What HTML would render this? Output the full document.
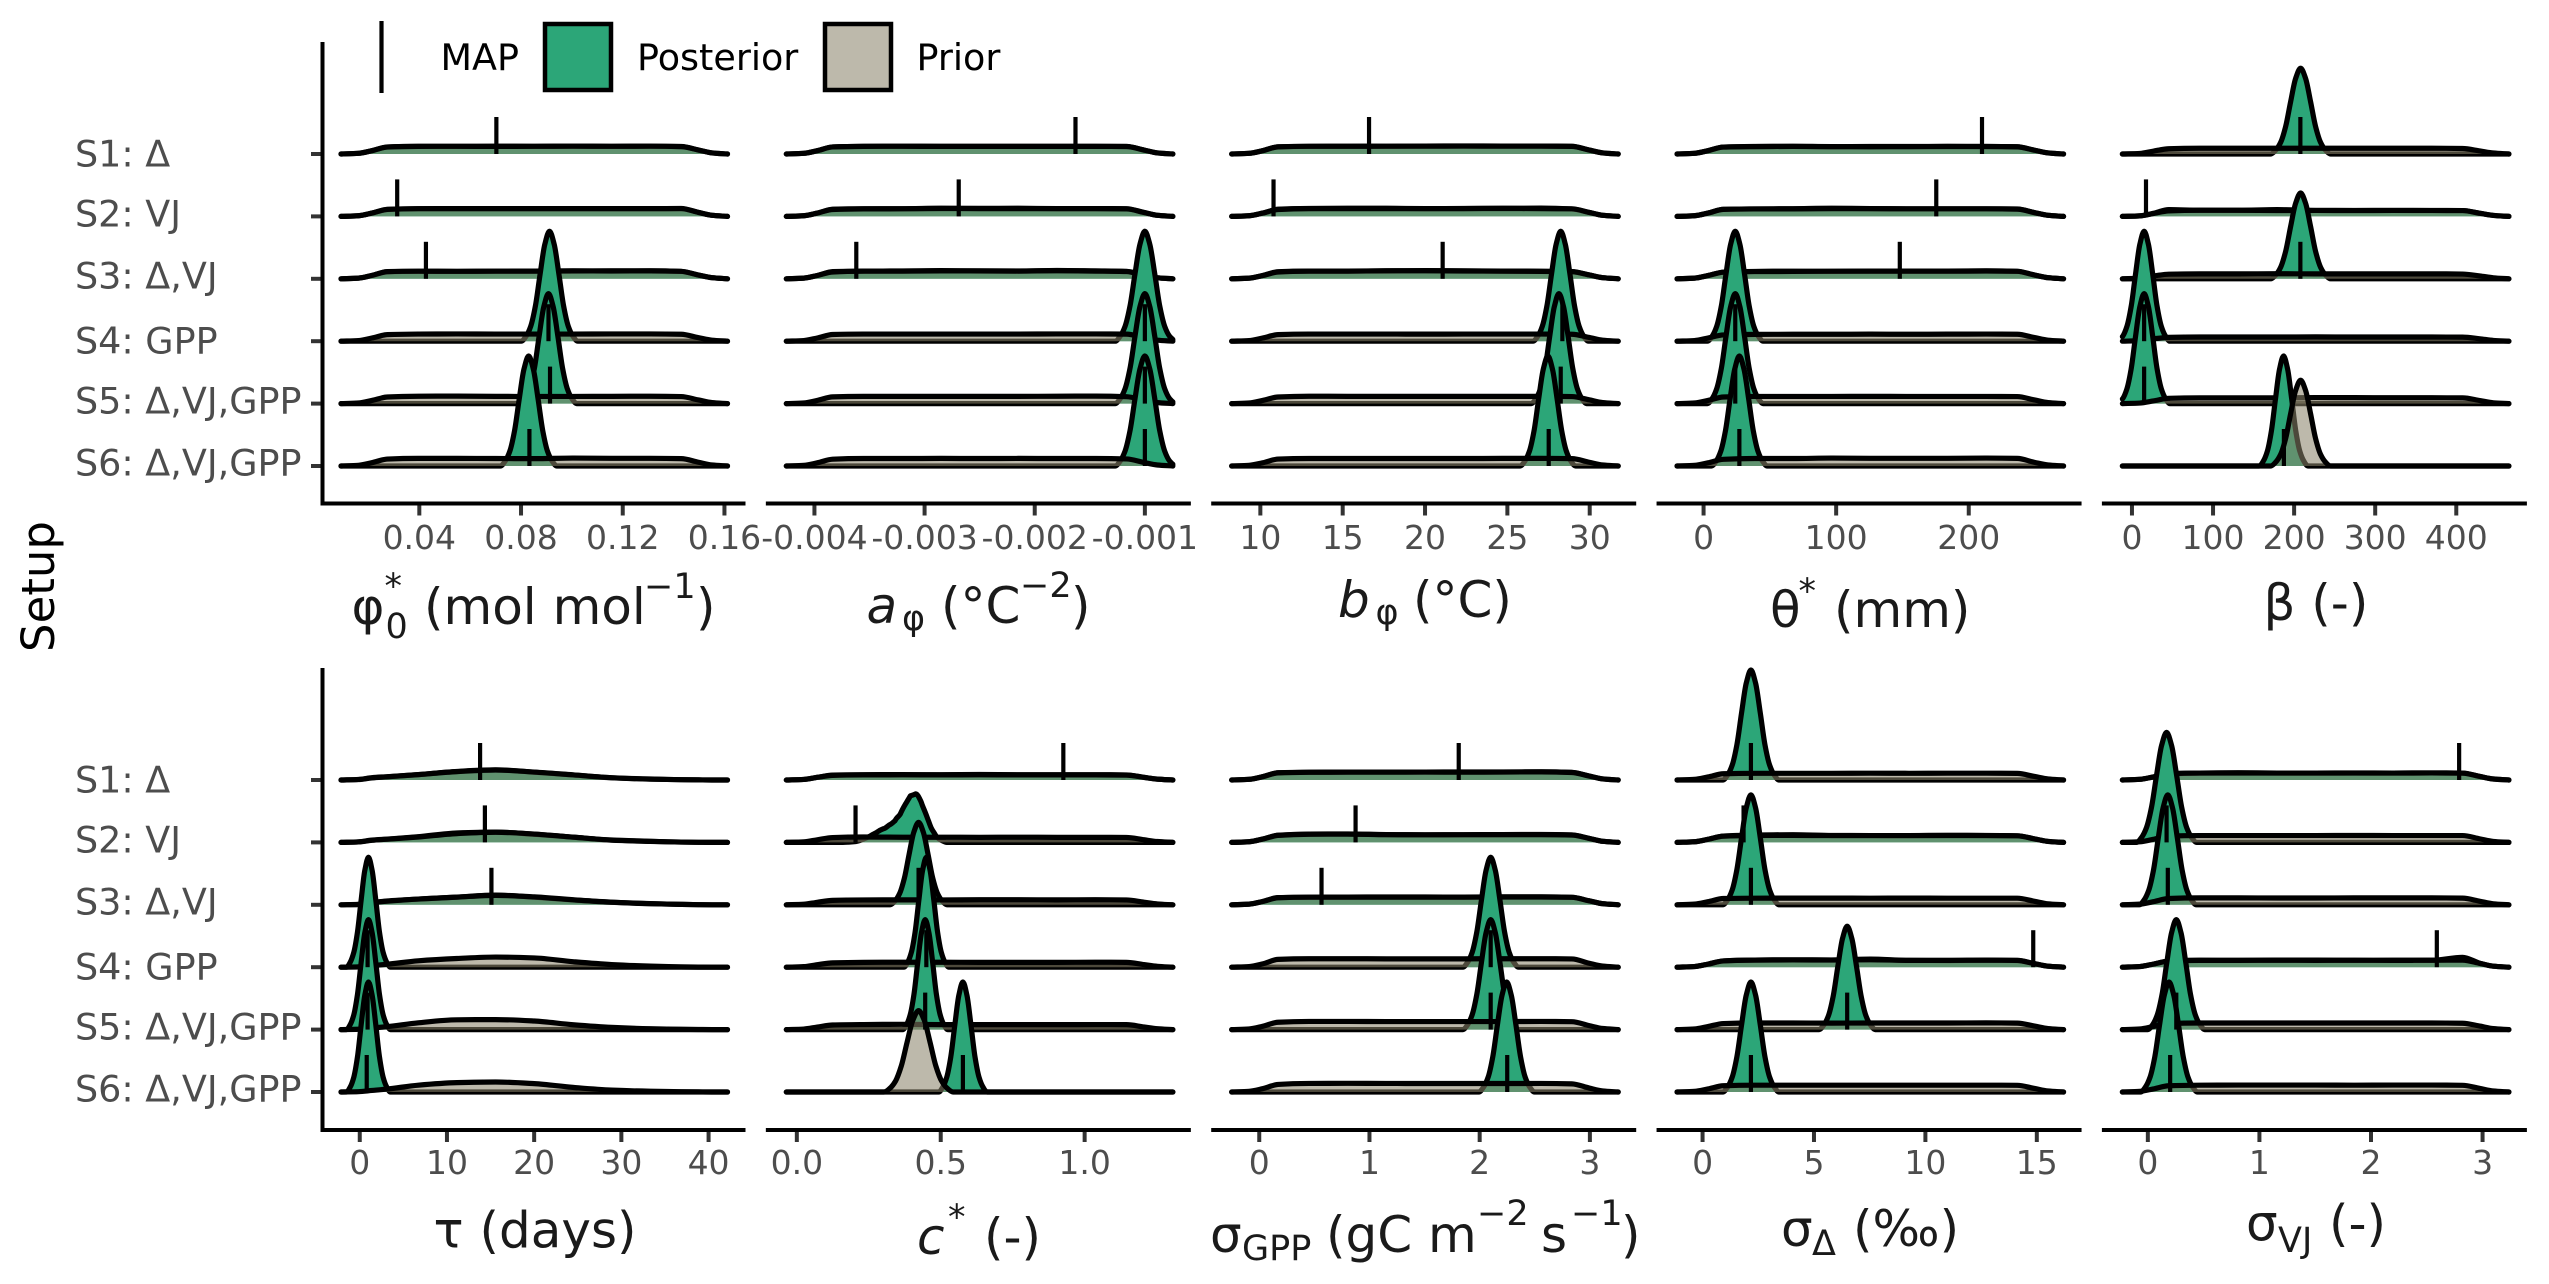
<!DOCTYPE html>
<html lang="en">
<head>
<meta charset="utf-8">
<title>Posterior and prior ridgelines</title>
<style>
html,body{margin:0;padding:0;background:#fff;}
svg{display:block;font-family:"DejaVu Sans","Liberation Sans",sans-serif;}
.title{font-size:50px;fill:#1a1a1a;}
.small{font-size:35px;}
.legend-label{font-size:36.5px;fill:#000;}
</style>
</head>
<body>
<svg id="chart" xmlns="http://www.w3.org/2000/svg" width="2549" height="1284" viewBox="0 0 2549 1284">
  <rect x="0" y="0" width="2549" height="1284" fill="#fff"/>
  <g>
    <line x1="381.5" y1="21" x2="381.5" y2="93" stroke="#000" stroke-width="4.2"/>
    <text class="legend-label" x="440.5" y="70">MAP</text>
    <rect x="545" y="24" width="66" height="66" fill="#2ca678" stroke="#000" stroke-width="4.5"/>
    <text class="legend-label" x="637" y="70">Posterior</text>
    <rect x="825" y="24" width="66" height="66" fill="#bdb9ab" stroke="#000" stroke-width="4.5"/>
    <text class="legend-label" x="916.5" y="70">Prior</text>
  </g>
  <text transform="translate(54,652) rotate(-90)" font-size="45" fill="#000">Setup</text>

  <text class="title"><tspan x="351.5" y="624">φ</tspan><tspan class="small" x="385.5" y="638">0</tspan><tspan class="small" x="384.5" y="598">*</tspan><tspan x="424" y="624">(mol mol</tspan><tspan class="small" x="644" y="598">−1</tspan><tspan x="696" y="624">)</tspan></text>
  <text class="title"><tspan x="866.5" y="623" font-style="italic">a</tspan><tspan class="small" x="902" y="630">φ</tspan><tspan x="941" y="623">(°C</tspan><tspan class="small" x="1020" y="597">−2</tspan><tspan x="1071" y="623">)</tspan></text>
  <text class="title"><tspan x="1338" y="617" font-style="italic">b</tspan><tspan class="small" x="1375.5" y="624">φ</tspan><tspan x="1413" y="617">(°C)</tspan></text>
  <text class="title"><tspan x="1770" y="627">θ</tspan><tspan class="small" x="1798.5" y="603">*</tspan><tspan x="1834" y="627">(mm)</tspan></text>
  <text class="title" x="2263.5" y="620">β (-)</text>
  <text class="title" x="433.5" y="1247.5">τ (days)</text>
  <text class="title"><tspan x="917" y="1254" font-style="italic">c</tspan><tspan class="small" x="948" y="1229">*</tspan><tspan x="984" y="1254">(-)</tspan></text>
  <text class="title"><tspan x="1210" y="1252">σ</tspan><tspan class="small" x="1242" y="1260">GPP</tspan><tspan x="1326" y="1252">(gC m</tspan><tspan class="small" x="1477" y="1225">−2</tspan><tspan x="1541" y="1252">s</tspan><tspan class="small" x="1571" y="1225">−1</tspan><tspan x="1621" y="1252">)</tspan></text>
  <text class="title"><tspan x="1781" y="1246">σ</tspan><tspan class="small" x="1812" y="1255">Δ</tspan><tspan x="1853" y="1246">(‰)</tspan></text>
  <text class="title"><tspan x="2246" y="1240.5">σ</tspan><tspan class="small" x="2278" y="1252">VJ</tspan><tspan x="2329" y="1240.5">(-)</tspan></text>
  <g id="panels"></g>
</svg>
<script>
const setups = ["S1: Δ", "S2: VJ", "S3: Δ,VJ", "S4: GPP", "S5: Δ,VJ,GPP", "S6: Δ,VJ,GPP"];
const gridFractions = [0, .045, .08, .12, .2, .3, .4, .5, .6, .7, .8, .88, .925, .96, 1];
const peakOffsets = [-3, -2.5, -2, -1.5, -1, -.5, 0, .5, 1, 1.5, 2, 2.5, 3];
const peakShape = [0, .044, .135, .32, .61, .88, 1, .88, .61, .32, .135, .044, 0];

/* φ0* */
const phi0Domain = [.0092, .1612];
const phi0Ticks = [.04, .08, .12, .16];
const phi0TickLabels = ["0.04", "0.08", "0.12", "0.16"];
const phi0Map = [.0703, .0313, .0426, .0908, .0914, .0833];
const phi0PosteriorPeaks = [[3, .0912, .0037, 100], [4, .0908, .0037, 100], [5, .083, .0037, 100]];
const phi0PriorPeaks = [];
const phi0Prior = [
  [0,.6,3,6.3,6.9,7,6.9,7,7.1,7,7.1,6.7,3.6,1,0],
  [0,.6,3,6.4,7,7.1,7,7.1,7,7.1,7,7.2,3.6,1,0],
  [0,.6,3.1,6.5,6.9,6.8,6.9,7,7.2,7.1,7.2,6.8,3.4,1,0],
  [0,.6,2.9,6,6.5,6.6,6.5,6.5,6.5,6.6,6.6,6.3,3.2,.9,0],
  [0,.6,2.9,6,6.7,6.8,6.6,6.5,6.5,6.6,6.7,6.4,3.3,.9,0],
  [0,.6,3,6.3,6.9,6.9,6.8,6.7,7.2,7,7,6.7,3.4,.9,0]
];
const phi0Posterior = [
  [0,.6,3,6.4,7,6.9,7.1,7,7.1,7,7.1,6.8,3.6,1,0],
  [0,.6,3,6.3,7,7,7.1,7,7.1,7.1,7.1,7,3.6,1,0],
  [0,.6,3,6.4,6.8,6.7,6.9,7,7.1,7.2,7.2,6.7,3.4,1,0],
  null, null, null
];

/* aφ */
const aPhiDomain = [-.004255, -.000746];
const aPhiTicks = [-.004, -.003, -.002, -.001];
const aPhiTickLabels = ["-0.004", "-0.003", "-0.002", "-0.001"];
const aPhiMap = [-.00163, -.00269, -.00362, -.001, -.001, -.001];
const aPhiPosteriorPeaks = [[3, -.001, .00009, 100], [4, -.001, .00009, 100], [5, -.001, .00009, 100]];
const aPhiPriorPeaks = [];
const aPhiPrior = [
  [0,.6,3,6.4,6.9,7,6.9,6.9,6.9,6.9,6.9,6.8,3.6,1,0],
  [0,.6,3,6.3,6.8,6.9,7.2,7.1,7.1,7,7,6.8,3.6,1,0],
  [0,.6,3,6.2,6.9,7,7.2,7.2,7,7.3,7,6.6,3.2,.9,0],
  [0,.6,2.9,6.1,6.5,6.5,6.5,6.5,6.5,6.6,6.6,6.4,3.3,.9,0],
  [0,.6,2.9,6.1,6.6,6.6,6.6,6.6,6.6,6.7,6.8,6.3,3.2,.9,0],
  [0,.6,2.9,6.2,6.8,6.8,6.9,6.8,6.9,6.8,6.8,6.4,3.2,.9,0]
];
const aPhiPosterior = [
  [0,.6,3,6.4,7,7.1,7,7,7,7,7,6.8,3.6,1,0],
  [0,.6,3,6.5,7,7,7.4,7.3,7.4,7.1,7.1,7,3.6,1,0],
  [0,.6,3,6.5,7,7.1,7.4,7.1,7.1,7.6,7.2,6.8,3.2,.9,0],
  null, null, null
];

/* bφ */
const bPhiDomain = [8.26, 31.73];
const bPhiTicks = [10, 15, 20, 25, 30];
const bPhiTickLabels = ["10", "15", "20", "25", "30"];
const bPhiMap = [16.6, 10.8, 21.07, 28.34, 28.24, 27.51];
const bPhiPosteriorPeaks = [[3, 28.24, .56, 100], [4, 28.13, .56, 100], [5, 27.46, .56, 100]];
const bPhiPriorPeaks = [];
const bPhiPrior = [
  [0,.6,3,6.5,7,7,7.1,7.1,7.2,7.1,7.1,6.9,3.6,1,0],
  [0,.6,3,6.3,7.1,7,7.1,7,7.1,7.2,7,6.9,3.6,1,0],
  [0,.6,2.9,6.1,6.9,7,7.3,7.3,7.1,7,6.7,6.5,3.5,1,0],
  [0,.6,2.9,6,6.5,6.5,6.5,6.4,6.5,6.5,6.5,6.3,3.4,.9,0],
  [0,.6,2.9,6,6.7,6.6,6.6,6.6,6.6,6.6,6.6,6.4,3.4,.9,0],
  [0,.6,2.9,6.3,6.8,6.8,6.8,6.8,6.8,6.9,6.9,6.7,3.4,.9,0]
];
const bPhiPosterior = [
  [0,.6,3,6.5,7,7.1,7,7.2,7.3,7.2,7.2,7,3.6,1,0],
  [0,.6,3,6.5,7.2,7.4,7.4,7.1,7.2,7.4,7.5,6.8,3.6,1,0],
  [0,.6,3,6.4,7,7,7.1,7.4,7.2,7,6.9,6.4,3.5,1,0],
  null, null, null
];

/* θ* */
const thetaDomain = [-20, 271.5];
const thetaTicks = [0, 100, 200];
const thetaTickLabels = ["0", "100", "200"];
const thetaMap = [210, 175.5, 148, 23.9, 23.9, 27];
const thetaPosteriorPeaks = [[3, 23.9, 7, 100], [4, 23.9, 7, 100], [5, 27, 7, 100]];
const thetaPriorPeaks = [];
const thetaPrior = [
  [0,.6,3,6.3,6.7,6.9,6.7,6.6,6.7,6.8,6.8,6.5,3.4,1,0],
  [0,.6,3,6.4,6.8,6.8,7,7,6.9,6.9,6.9,6.6,3.4,1,0],
  [0,.6,2.9,6,6.6,6.7,6.9,6.9,7,6.9,7.1,6.8,3.4,1,0],
  [0,.6,2.9,5.7,6.2,6.3,6.3,6.4,6.3,6.4,6.5,6.3,3.3,.9,0],
  [0,.6,2.9,6,6.5,6.5,6.5,6.6,6.5,6.5,6.5,6.4,3.3,.9,0],
  [0,.6,2.9,6.1,6.8,6.8,7.2,7,7,7,7.2,6.9,3.3,.9,0]
];
const thetaPosterior = [
  [0,.6,3,6.3,6.8,7,6.6,6.8,6.8,6.9,6.8,6.6,3.4,1,0],
  [0,.6,3,6.4,6.8,7,7.4,7.1,6.9,6.9,6.9,6.7,3.4,1,0],
  [0,.6,2.9,6,6.7,6.9,6.7,7,6.9,7,7.2,6.8,3.4,1,0],
  null, null, null
];

/* β */
const betaDomain = [-11.8, 464.9];
const betaTicks = [0, 100, 200, 300, 400];
const betaTickLabels = ["0", "100", "200", "300", "400"];
const betaMap = [207.7, 17.3, 207.7, 15, 15, 187.4];
const betaPosteriorPeaks = [[0, 208, 12.3, 78], [2, 208, 12.3, 78], [3, 15, 10.6, 100], [4, 15, 10.6, 100], [5, 187, 10, 100]];
const betaPriorPeaks = [[5, 208, 12.3, 78]];
const betaPrior = [
  [0,.5,2.6,4.8,5.2,5.2,5.2,5.2,5.2,5.2,5.2,5,2.8,.9,0],
  [0,.5,2.6,5,5.6,5.6,5.3,5.4,5.3,5.4,5.4,5.3,2.8,.9,0],
  [0,.5,2.5,4.2,4.5,4.5,4.6,4.5,4.5,4.5,4.5,4.3,2.6,.9,0],
  [0,.5,2.1,3.5,3.8,3.8,3.8,3.9,3.8,3.8,3.8,3.7,2.2,.7,0],
  [0,.5,2.4,4.8,5.2,5.2,5.2,5.5,5.4,5.3,5.3,5.2,2.8,.7,0],
  null
];
const betaPosterior = [
  null,
  [0,.5,2.8,6.2,5.6,5.5,6.2,5.4,5.4,5.4,5.3,5.3,2.8,.9,0],
  null, null, null, null
];

/* τ */
const tauDomain = [-2.15, 42.17];
const tauTicks = [0, 10, 20, 30, 40];
const tauTickLabels = ["0", "10", "20", "30", "40"];
const tauMap = [13.8, 14.35, 15.1, .9, .9, .8];
const tauPosteriorPeaks = [[3, 1, .84, 100], [4, 1, .84, 100], [5, 1, .84, 100]];
const tauPriorPeaks = [];
const tauPrior = [
  [0,.4,1.9,2.9,4.9,7.6,9.1,7.2,4.7,2.1,.9,.3,.1,0,0],
  [0,.4,1.9,2.9,4.9,8,9.2,7.6,4.8,2.2,1,.3,.1,0,0],
  [0,.3,1.9,3.3,5.2,7,8.6,7.2,4.6,2.4,1.1,.4,.1,0,0],
  [0,.3,1.4,2.7,5.8,7.9,9.2,8.4,5,2.4,1,.3,.1,0,0],
  [0,.3,1.4,2.7,6.2,8.9,9.1,7.8,4.4,2,.8,.3,.1,0,0],
  [0,.3,1.4,2.7,6.2,8.5,9.1,7.6,4.2,1.7,.7,.3,.1,0,0]
];
const tauPosterior = [
  [0,.5,2.1,3,4.9,7.8,9.2,7.1,4.6,2,.8,.3,.1,0,0],
  [0,.5,2.1,3,5.2,8.6,9.4,7.4,4.8,2,.9,.3,.1,0,0],
  [0,.4,2,3.5,5.2,7,8.8,6.9,4.4,2.3,1,.4,.1,0,0],
  null, null, null
];

/* c* */
const cDomain = [-.0364, 1.3065];
const cTicks = [0, .5, 1];
const cTickLabels = ["0.0", "0.5", "1.0"];
const cMap = [.926, .204, .423, .45, .446, .577];
const cPosteriorPeaks = [[1, .413, .036, 40], [1, .345, .045, 13], [1, .28, .04, 5], [2, .423, .033, 75], [3, .45, .026, 100], [4, .446, .026, 100], [5, .577, .028, 100]];
const cPriorPeaks = [[5, .423, .04, 74]];
const cPrior = [
  [0,.5,2.4,4.2,4.6,4.7,4.6,4.7,4.6,4.6,4.6,4.4,2.4,.8,0],
  [0,.5,2.4,4.4,4.9,4.7,4.7,4.6,4.7,4.6,4.6,4.5,2.4,.8,0],
  [0,.5,2.3,4,4.4,4.5,4.4,4.6,4.6,4.5,4.6,4.4,2.4,.8,0],
  [0,.5,2.3,3.9,4.4,4.5,4.5,4.4,4.4,4.4,4.5,4.4,2.4,.8,0],
  [0,.5,2.3,4.2,4.6,4.8,4.5,4.5,4.5,4.5,4.6,4.5,2.4,.8,0],
  null
];
const cPosterior = [
  [0,.5,2.4,4.4,4.8,4.9,4.8,5,4.8,4.8,4.8,4.6,2.4,.8,0],
  null, null, null, null, null
];

/* σGPP */
const sigmaGppDomain = [-.25, 3.257];
const sigmaGppTicks = [0, 1, 2, 3];
const sigmaGppTickLabels = ["0", "1", "2", "3"];
const sigmaGppMap = [1.81, .874, .565, 2.1, 2.1, 2.25];
const sigmaGppPosteriorPeaks = [[3, 2.1, .084, 100], [4, 2.1, .084, 100], [5, 2.245, .084, 100]];
const sigmaGppPriorPeaks = [];
const sigmaGppPrior = [
  [0,.6,3,6.5,7,7.1,7.1,7.2,7.1,7.2,7.4,6.8,3.6,1,0],
  [0,.6,3,6.4,7.4,7.5,7,6.9,7,7.1,7.1,6.7,3.6,1,0],
  [0,.6,3,6.4,6.9,6.9,7,7,7,7.1,7.1,6.8,3.6,1,0],
  [0,.6,3,7.1,7.7,7.7,7.6,7.6,7.6,7.7,7.7,7.5,3.6,1,0],
  [0,.6,3,6.7,7.4,7.4,7.3,7.3,7.3,7.3,7.4,7.2,3.6,1,0],
  [0,.6,3,6.9,7.8,7.9,7.8,7.7,7.7,7.7,7.8,7.4,3.6,1,0]
];
const sigmaGppPosterior = [
  [0,.6,3,6.6,7.1,7.2,7.2,7.2,7.3,7.3,7.4,6.9,3.6,1,0],
  [0,.6,3,6.5,7.6,7.7,7.1,6.9,6.9,7.1,7.2,6.7,3.6,1,0],
  [0,.6,3,6.5,6.9,7,7.1,7.1,7,7.2,7.2,6.8,3.6,1,0],
  null, null, null
];

/* σΔ */
const sigmaDeltaDomain = [-1.145, 16.2];
const sigmaDeltaTicks = [0, 5, 10, 15];
const sigmaDeltaTickLabels = ["0", "5", "10", "15"];
const sigmaDeltaMap = [2.17, 1.84, 2.17, 14.84, 6.49, 2.17];
const sigmaDeltaPosteriorPeaks = [[0, 2.17, .42, 100], [2, 2.17, .42, 100], [4, 6.49, .42, 94], [5, 2.17, .42, 100]];
const sigmaDeltaPriorPeaks = [];
const sigmaDeltaPrior = [
  [0,.6,2.8,5.7,6.1,6.1,6.1,6.2,6.1,6.2,6.2,6,3.2,.9,0],
  [0,.6,2.8,5.7,6.3,6.4,6.2,6.2,6.2,6.3,6.2,6,3.2,.9,0],
  [0,.6,2.8,5.7,6,6.1,6.1,6,6.1,6,6,6,3.2,.9,0],
  [0,.6,2.8,5.7,6.4,6.6,6.5,6.8,6.2,6.2,6.3,6.2,3.2,.9,0],
  [0,.6,2.8,5.5,6,6,5.9,6,6,6,6.1,5.9,3.2,.9,0],
  [0,.6,2.8,5.7,6.2,6.2,6.2,6.2,6.2,6.2,6.2,6.1,3.2,.9,0]
];
const sigmaDeltaPosterior = [
  null,
  [0,.6,2.8,5.7,6.6,7,6.3,6.2,6.1,6.4,6.3,6,3.2,.9,0],
  null,
  [0,.6,2.8,5.7,6.5,6.7,6.6,7.4,6.2,6.1,6.5,6.1,3.2,.9,0],
  null, null
];

/* σVJ */
const sigmaVjDomain = [-.228, 3.236];
const sigmaVjTicks = [0, 1, 2, 3];
const sigmaVjTickLabels = ["0", "1", "2", "3"];
const sigmaVjMap = [2.79, .168, .179, 2.59, .255, .2];
const sigmaVjPosteriorPeaks = [[1, .168, .09, 100], [2, .179, .085, 100], [4, .255, .085, 100], [5, .19, .085, 100]];
const sigmaVjPriorPeaks = [];
const sigmaVjPrior = [
  [0,.6,2.8,5.7,6.3,6.3,6.3,6.3,6.3,6.3,6.4,6.2,3.2,.9,0],
  [0,.6,2.8,5.7,6.2,6.2,6.2,6.2,6.3,6.2,6.2,6.2,3.2,.9,0],
  [0,.6,2.8,5.7,6.3,6.3,6.2,6.2,6.3,6.3,6.3,6.1,3.2,.9,0],
  [0,.6,2.8,5.6,6.2,6.2,6.3,6.2,6.3,6.2,6.3,6.4,3.4,.9,0],
  [0,.6,2.8,5.5,6,6,6,6,6,6,6,5.8,3.2,.9,0],
  [0,.6,2.8,5.7,6.2,6.3,6.3,6.3,6.2,6.3,6.3,6.1,3.2,.9,0]
];
const sigmaVjPosterior = [
  [0,.6,2.8,5.7,6.3,6.6,6.3,6.3,6.4,6.3,6.4,6.3,3.2,.9,0],
  null, null,
  [0,.6,2.8,5.6,6.3,6.2,6.4,6.5,6.2,6.3,6.3,9,3.6,.9,0],
  null, null
];

const panels = [
  {id: "phi0", row: 0, col: 0, domain: phi0Domain, ticks: phi0Ticks, tickLabels: phi0TickLabels, map: phi0Map, prior: phi0Prior, posterior: phi0Posterior, posteriorPeaks: phi0PosteriorPeaks, priorPeaks: phi0PriorPeaks},
  {id: "a-phi", row: 0, col: 1, domain: aPhiDomain, ticks: aPhiTicks, tickLabels: aPhiTickLabels, map: aPhiMap, prior: aPhiPrior, posterior: aPhiPosterior, posteriorPeaks: aPhiPosteriorPeaks, priorPeaks: aPhiPriorPeaks},
  {id: "b-phi", row: 0, col: 2, domain: bPhiDomain, ticks: bPhiTicks, tickLabels: bPhiTickLabels, map: bPhiMap, prior: bPhiPrior, posterior: bPhiPosterior, posteriorPeaks: bPhiPosteriorPeaks, priorPeaks: bPhiPriorPeaks},
  {id: "theta", row: 0, col: 3, domain: thetaDomain, ticks: thetaTicks, tickLabels: thetaTickLabels, map: thetaMap, prior: thetaPrior, posterior: thetaPosterior, posteriorPeaks: thetaPosteriorPeaks, priorPeaks: thetaPriorPeaks},
  {id: "beta", row: 0, col: 4, domain: betaDomain, ticks: betaTicks, tickLabels: betaTickLabels, map: betaMap, prior: betaPrior, posterior: betaPosterior, posteriorPeaks: betaPosteriorPeaks, priorPeaks: betaPriorPeaks},
  {id: "tau", row: 1, col: 0, domain: tauDomain, ticks: tauTicks, tickLabels: tauTickLabels, map: tauMap, prior: tauPrior, posterior: tauPosterior, posteriorPeaks: tauPosteriorPeaks, priorPeaks: tauPriorPeaks},
  {id: "c", row: 1, col: 1, domain: cDomain, ticks: cTicks, tickLabels: cTickLabels, map: cMap, prior: cPrior, posterior: cPosterior, posteriorPeaks: cPosteriorPeaks, priorPeaks: cPriorPeaks},
  {id: "sigma-gpp", row: 1, col: 2, domain: sigmaGppDomain, ticks: sigmaGppTicks, tickLabels: sigmaGppTickLabels, map: sigmaGppMap, prior: sigmaGppPrior, posterior: sigmaGppPosterior, posteriorPeaks: sigmaGppPosteriorPeaks, priorPeaks: sigmaGppPriorPeaks},
  {id: "sigma-delta", row: 1, col: 3, domain: sigmaDeltaDomain, ticks: sigmaDeltaTicks, tickLabels: sigmaDeltaTickLabels, map: sigmaDeltaMap, prior: sigmaDeltaPrior, posterior: sigmaDeltaPosterior, posteriorPeaks: sigmaDeltaPosteriorPeaks, priorPeaks: sigmaDeltaPriorPeaks},
  {id: "sigma-vj", row: 1, col: 4, domain: sigmaVjDomain, ticks: sigmaVjTicks, tickLabels: sigmaVjTickLabels, map: sigmaVjMap, prior: sigmaVjPrior, posterior: sigmaVjPosterior, posteriorPeaks: sigmaVjPosteriorPeaks, priorPeaks: sigmaVjPriorPeaks}
];

const NS = "http://www.w3.org/2000/svg";
const root = document.getElementById("panels");
const layoutRows = [
  {axisY: 503.5, axisTop: 42, firstBase: 154, tickLabelY: 549},
  {axisY: 1130, axisTop: 668, firstBase: 780, tickLabelY: 1174}
];
const rowStep = 62.4, plotWidth = 386.5, densityPx = 1.1, labelOffsets = [12.5, 10, 9.5, 12.5, 10, 9.5];

function add(tag, parent, attrs) {
  const el = document.createElementNS(NS, tag);
  Object.keys(attrs).forEach(k => el.setAttribute(k, attrs[k]));
  parent.appendChild(el);
  return el;
}
function interpolate(xs, ys, x) {
  if (x <= xs[0]) return ys[0];
  for (let i = 1; i < xs.length; i++) {
    if (x <= xs[i]) return ys[i - 1] + (ys[i] - ys[i - 1]) * (x - xs[i - 1]) / (xs[i] - xs[i - 1]);
  }
  return ys[ys.length - 1];
}
function densityPoints(flat, peaks, domain, rowIndex) {
  const lo = domain[0], hi = domain[1], span = hi - lo;
  const gridX = gridFractions.map(f => lo + f * span);
  const rowPeaks = peaks.filter(p => p[0] === rowIndex);
  let xs = flat ? gridX.slice() : [lo, hi];
  rowPeaks.forEach(p => peakOffsets.forEach(o => {
    const v = p[1] + o * p[2];
    if (v > lo && v < hi) xs.push(v);
  }));
  xs.sort((a, b) => a - b);
  xs = xs.filter((v, i) => i === 0 || v - xs[i - 1] > span * 1e-5);
  return xs.map(v => {
    let h = flat ? interpolate(gridX, flat, v) : 0;
    rowPeaks.forEach(p => { h += p[3] * interpolate(peakOffsets, peakShape, (v - p[1]) / p[2]); });
    return [v, h];
  });
}
function smoothPath(pts) {
  const n = pts.length, d = [], m = [];
  for (let i = 0; i < n - 1; i++) d[i] = (pts[i + 1][1] - pts[i][1]) / (pts[i + 1][0] - pts[i][0]);
  m[0] = d[0]; m[n - 1] = d[n - 2];
  for (let i = 1; i < n - 1; i++) {
    const h0 = pts[i][0] - pts[i - 1][0], h1 = pts[i + 1][0] - pts[i][0];
    m[i] = d[i - 1] * d[i] <= 0 ? 0 : 3 * (h0 + h1) / ((2 * h1 + h0) / d[i - 1] + (h1 + 2 * h0) / d[i]);
  }
  let s = "M" + pts[0][0].toFixed(2) + " " + pts[0][1].toFixed(2);
  for (let i = 0; i < n - 1; i++) {
    const h = (pts[i + 1][0] - pts[i][0]) / 3;
    s += "C" + (pts[i][0] + h).toFixed(2) + " " + (pts[i][1] + m[i] * h).toFixed(2) + " " +
         (pts[i + 1][0] - h).toFixed(2) + " " + (pts[i + 1][1] - m[i + 1] * h).toFixed(2) + " " +
         pts[i + 1][0].toFixed(2) + " " + pts[i + 1][1].toFixed(2);
  }
  return s;
}

panels.forEach(panel => {
  const layout = layoutRows[panel.row];
  const axisLeft = 322.5 + panel.col * 445.35;
  const plotLeft = 341 + panel.col * 445.35;
  const xScale = v => plotLeft + (v - panel.domain[0]) / (panel.domain[1] - panel.domain[0]) * plotWidth;
  const baseY = i => layout.firstBase + i * rowStep;
  const yScale = (i, h) => baseY(i) - h * densityPx;

  const g = add("g", root, {});
  
  

  const xAxis = add("line", g, {x1: axisLeft - 2, y1: layout.axisY, x2: axisLeft + 423, y2: layout.axisY, stroke: "#000", "stroke-width": 4});
  
  

  panel.ticks.forEach((t, i) => {
    const tick = add("line", g, {x1: xScale(t), y1: layout.axisY + 2, x2: xScale(t), y2: layout.axisY + 12, stroke: "#333", "stroke-width": 4});
    
    
    const label = add("text", g, {x: xScale(t), y: layout.tickLabelY, "text-anchor": "middle", "font-size": 33, fill: "#4d4d4d"});
    label.textContent = panel.tickLabels[i];
    
    
  });

  if (panel.col === 0) {
    const yAxis = add("line", g, {x1: axisLeft, y1: layout.axisTop, x2: axisLeft, y2: layout.axisY + 2, stroke: "#000", "stroke-width": 4});
    
    
    setups.forEach((s, i) => {
      const tick = add("line", g, {x1: axisLeft - 11.5, y1: baseY(i), x2: axisLeft - 2, y2: baseY(i), stroke: "#333", "stroke-width": 4});
      
      
      const label = add("text", g, {x: 75, y: baseY(i) + labelOffsets[i], "font-size": 36.5, fill: "#4d4d4d"});
      label.textContent = s;
      
      
    });
  }

  setups.forEach((s, i) => {
    const series = [
      {name: "posterior", flat: panel.posterior[i], peaks: panel.posteriorPeaks, fill: "#2ca678", alpha: 1},
      {name: "prior", flat: panel.prior[i], peaks: panel.priorPeaks, fill: "rgb(137,130,105)", alpha: .56}
    ];
    series.forEach(sr => {
      const pts = densityPoints(sr.flat, sr.peaks, panel.domain, i).map(p => [xScale(p[0]), yScale(i, p[1])]);
      const line = smoothPath(pts);
      const area = add("path", g, {d: line + "L" + pts[pts.length - 1][0].toFixed(2) + " " + baseY(i) + "L" + pts[0][0].toFixed(2) + " " + baseY(i) + "Z", fill: sr.fill, "fill-opacity": sr.alpha, stroke: "none"});
      
      
      const curve = add("path", g, {d: line, fill: "none", stroke: "#000", "stroke-width": 5.2, "stroke-linecap": "round", "stroke-linejoin": "round"});
      
      
    });
  });

  panel.map.forEach((v, i) => {
    const mark = add("line", g, {x1: xScale(v), y1: baseY(i), x2: xScale(v), y2: baseY(i) - 37, stroke: "#000", "stroke-width": 4.2});
    
    
  });
});
</script>
</body>
</html>
